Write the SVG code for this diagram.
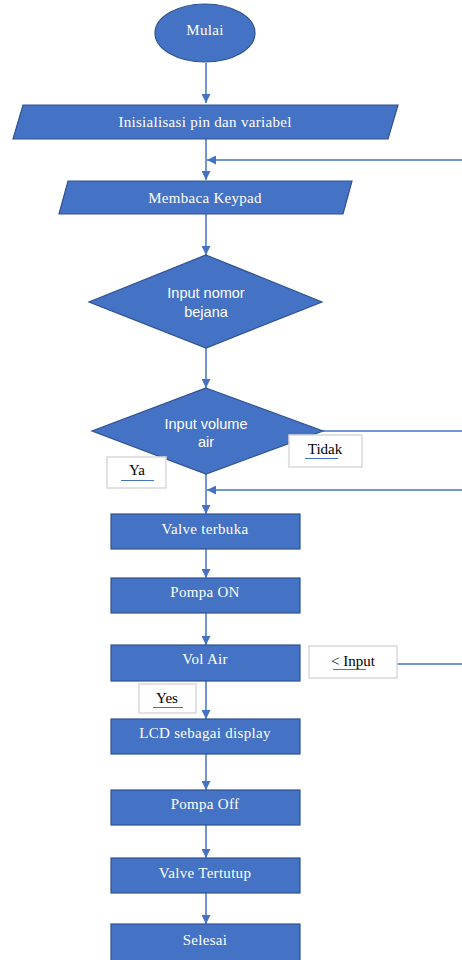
<svg xmlns="http://www.w3.org/2000/svg" width="462" height="960" viewBox="0 0 462 960">
<defs>
<style>
.shape{fill:#4472C4;stroke:#2F528F;stroke-width:1.2}
.t{font-family:"Liberation Serif",serif;font-size:15px;letter-spacing:0.3px;fill:#ffffff;text-anchor:middle}
.ts{font-family:"Liberation Sans",sans-serif;font-size:14.5px;fill:#ffffff;text-anchor:middle}
.lbl{fill:#ffffff;stroke:#D9D9D9;stroke-width:1.5}
.lt{font-family:"Liberation Serif",serif;font-size:15px;fill:#000000;text-anchor:middle}
.ul{stroke:#4472C4;stroke-width:1}
.c{stroke:#4472C4;stroke-width:1.5;fill:none}
</style>
<marker id="ah" viewBox="0 0 10 10" refX="10" refY="5" markerWidth="6" markerHeight="6" orient="auto" markerUnits="strokeWidth">
<path d="M0,0 L10,5 L0,10 z" fill="#4472C4"/>
</marker>
</defs>
<rect width="462" height="960" fill="#ffffff"/>
<g id="connectors">
<line class="c" x1="206" y1="63" x2="206" y2="103" marker-end="url(#ah)"/>
<line class="c" x1="206" y1="139" x2="206" y2="180" marker-end="url(#ah)"/>
<line class="c" x1="462" y1="160" x2="207" y2="160" marker-end="url(#ah)"/>
<line class="c" x1="206" y1="214" x2="206" y2="255" marker-end="url(#ah)"/>
<line class="c" x1="206" y1="348" x2="206" y2="388" marker-end="url(#ah)"/>
<line class="c" x1="323" y1="431" x2="462" y2="431"/>
<line class="c" x1="206" y1="474" x2="206" y2="514" marker-end="url(#ah)"/>
<line class="c" x1="462" y1="490" x2="207" y2="490" marker-end="url(#ah)"/>
<line class="c" x1="206" y1="549" x2="206" y2="578" marker-end="url(#ah)"/>
<line class="c" x1="206" y1="613" x2="206" y2="645" marker-end="url(#ah)"/>
<line class="c" x1="397" y1="664" x2="462" y2="664"/>
<line class="c" x1="206" y1="681" x2="206" y2="719" marker-end="url(#ah)"/>
<line class="c" x1="206" y1="754" x2="206" y2="790" marker-end="url(#ah)"/>
<line class="c" x1="206" y1="825" x2="206" y2="858" marker-end="url(#ah)"/>
<line class="c" x1="206" y1="893" x2="206" y2="924" marker-end="url(#ah)"/>
</g>
<g id="mulai">
<ellipse class="shape" cx="205" cy="33" rx="50" ry="29"/>
<text class="t" x="205" y="35">Mulai</text>
</g>
<g id="inisialisasi">
<polygon class="shape" points="23,105 398,105 388,139 13,139"/>
<text class="t" x="205" y="127">Inisialisasi pin dan variabel</text>
</g>
<g id="keypad">
<polygon class="shape" points="68,181 352,181 343,214 59,214"/>
<text class="t" x="205" y="203">Membaca Keypad</text>
</g>
<g id="nomor">
<polygon class="shape" points="206,255 322,302 206,348 89,302"/>
<text class="ts" x="206" y="298">Input nomor</text>
<text class="ts" x="206" y="317">bejana</text>
</g>
<g id="volume">
<polygon class="shape" points="206,388 323,431 206,474 92,431"/>
<text class="ts" x="206" y="429">Input volume</text>
<text class="ts" x="206" y="447">air</text>
</g>
<g id="label-tidak">
<rect class="lbl" x="289" y="435" width="73" height="32"/>
<text class="lt" x="325" y="454">Tidak</text>
<line class="ul" x1="305" y1="458.5" x2="338" y2="458.5"/>
</g>
<g id="label-ya">
<rect class="lbl" x="107" y="457" width="59" height="31"/>
<text class="lt" x="137" y="475">Ya</text>
<line class="ul" x1="121" y1="480.5" x2="154" y2="480.5"/>
</g>
<g id="valve-terbuka">
<rect class="shape" x="111" y="514" width="189" height="35"/>
<text class="t" x="205" y="534">Valve terbuka</text>
</g>
<g id="pompa-on">
<rect class="shape" x="111" y="578" width="189" height="35"/>
<text class="t" x="205" y="597">Pompa ON</text>
</g>
<g id="vol-air">
<rect class="shape" x="111" y="645" width="189" height="36"/>
<text class="t" x="205" y="664">Vol Air</text>
</g>
<g id="label-input">
<rect class="lbl" x="309" y="646" width="88" height="32"/>
<text class="lt" x="353" y="666">&lt; Input</text>
<line class="ul" x1="333" y1="669.5" x2="366" y2="669.5"/>
</g>
<g id="label-yes">
<rect class="lbl" x="139" y="684" width="57" height="29"/>
<text class="lt" x="167" y="703">Yes</text>
<line class="ul" x1="153" y1="707.5" x2="183" y2="707.5"/>
</g>
<g id="lcd">
<rect class="shape" x="111" y="719" width="189" height="35"/>
<text class="t" x="205" y="738">LCD sebagai display</text>
</g>
<g id="pompa-off">
<rect class="shape" x="111" y="790" width="189" height="35"/>
<text class="t" x="205" y="809">Pompa Off</text>
</g>
<g id="valve-tertutup">
<rect class="shape" x="111" y="858" width="189" height="35"/>
<text class="t" x="205" y="878">Valve Tertutup</text>
</g>
<g id="selesai">
<rect class="shape" x="111" y="924" width="189" height="40"/>
<text class="t" x="205" y="945">Selesai</text>
</g>
</svg>
